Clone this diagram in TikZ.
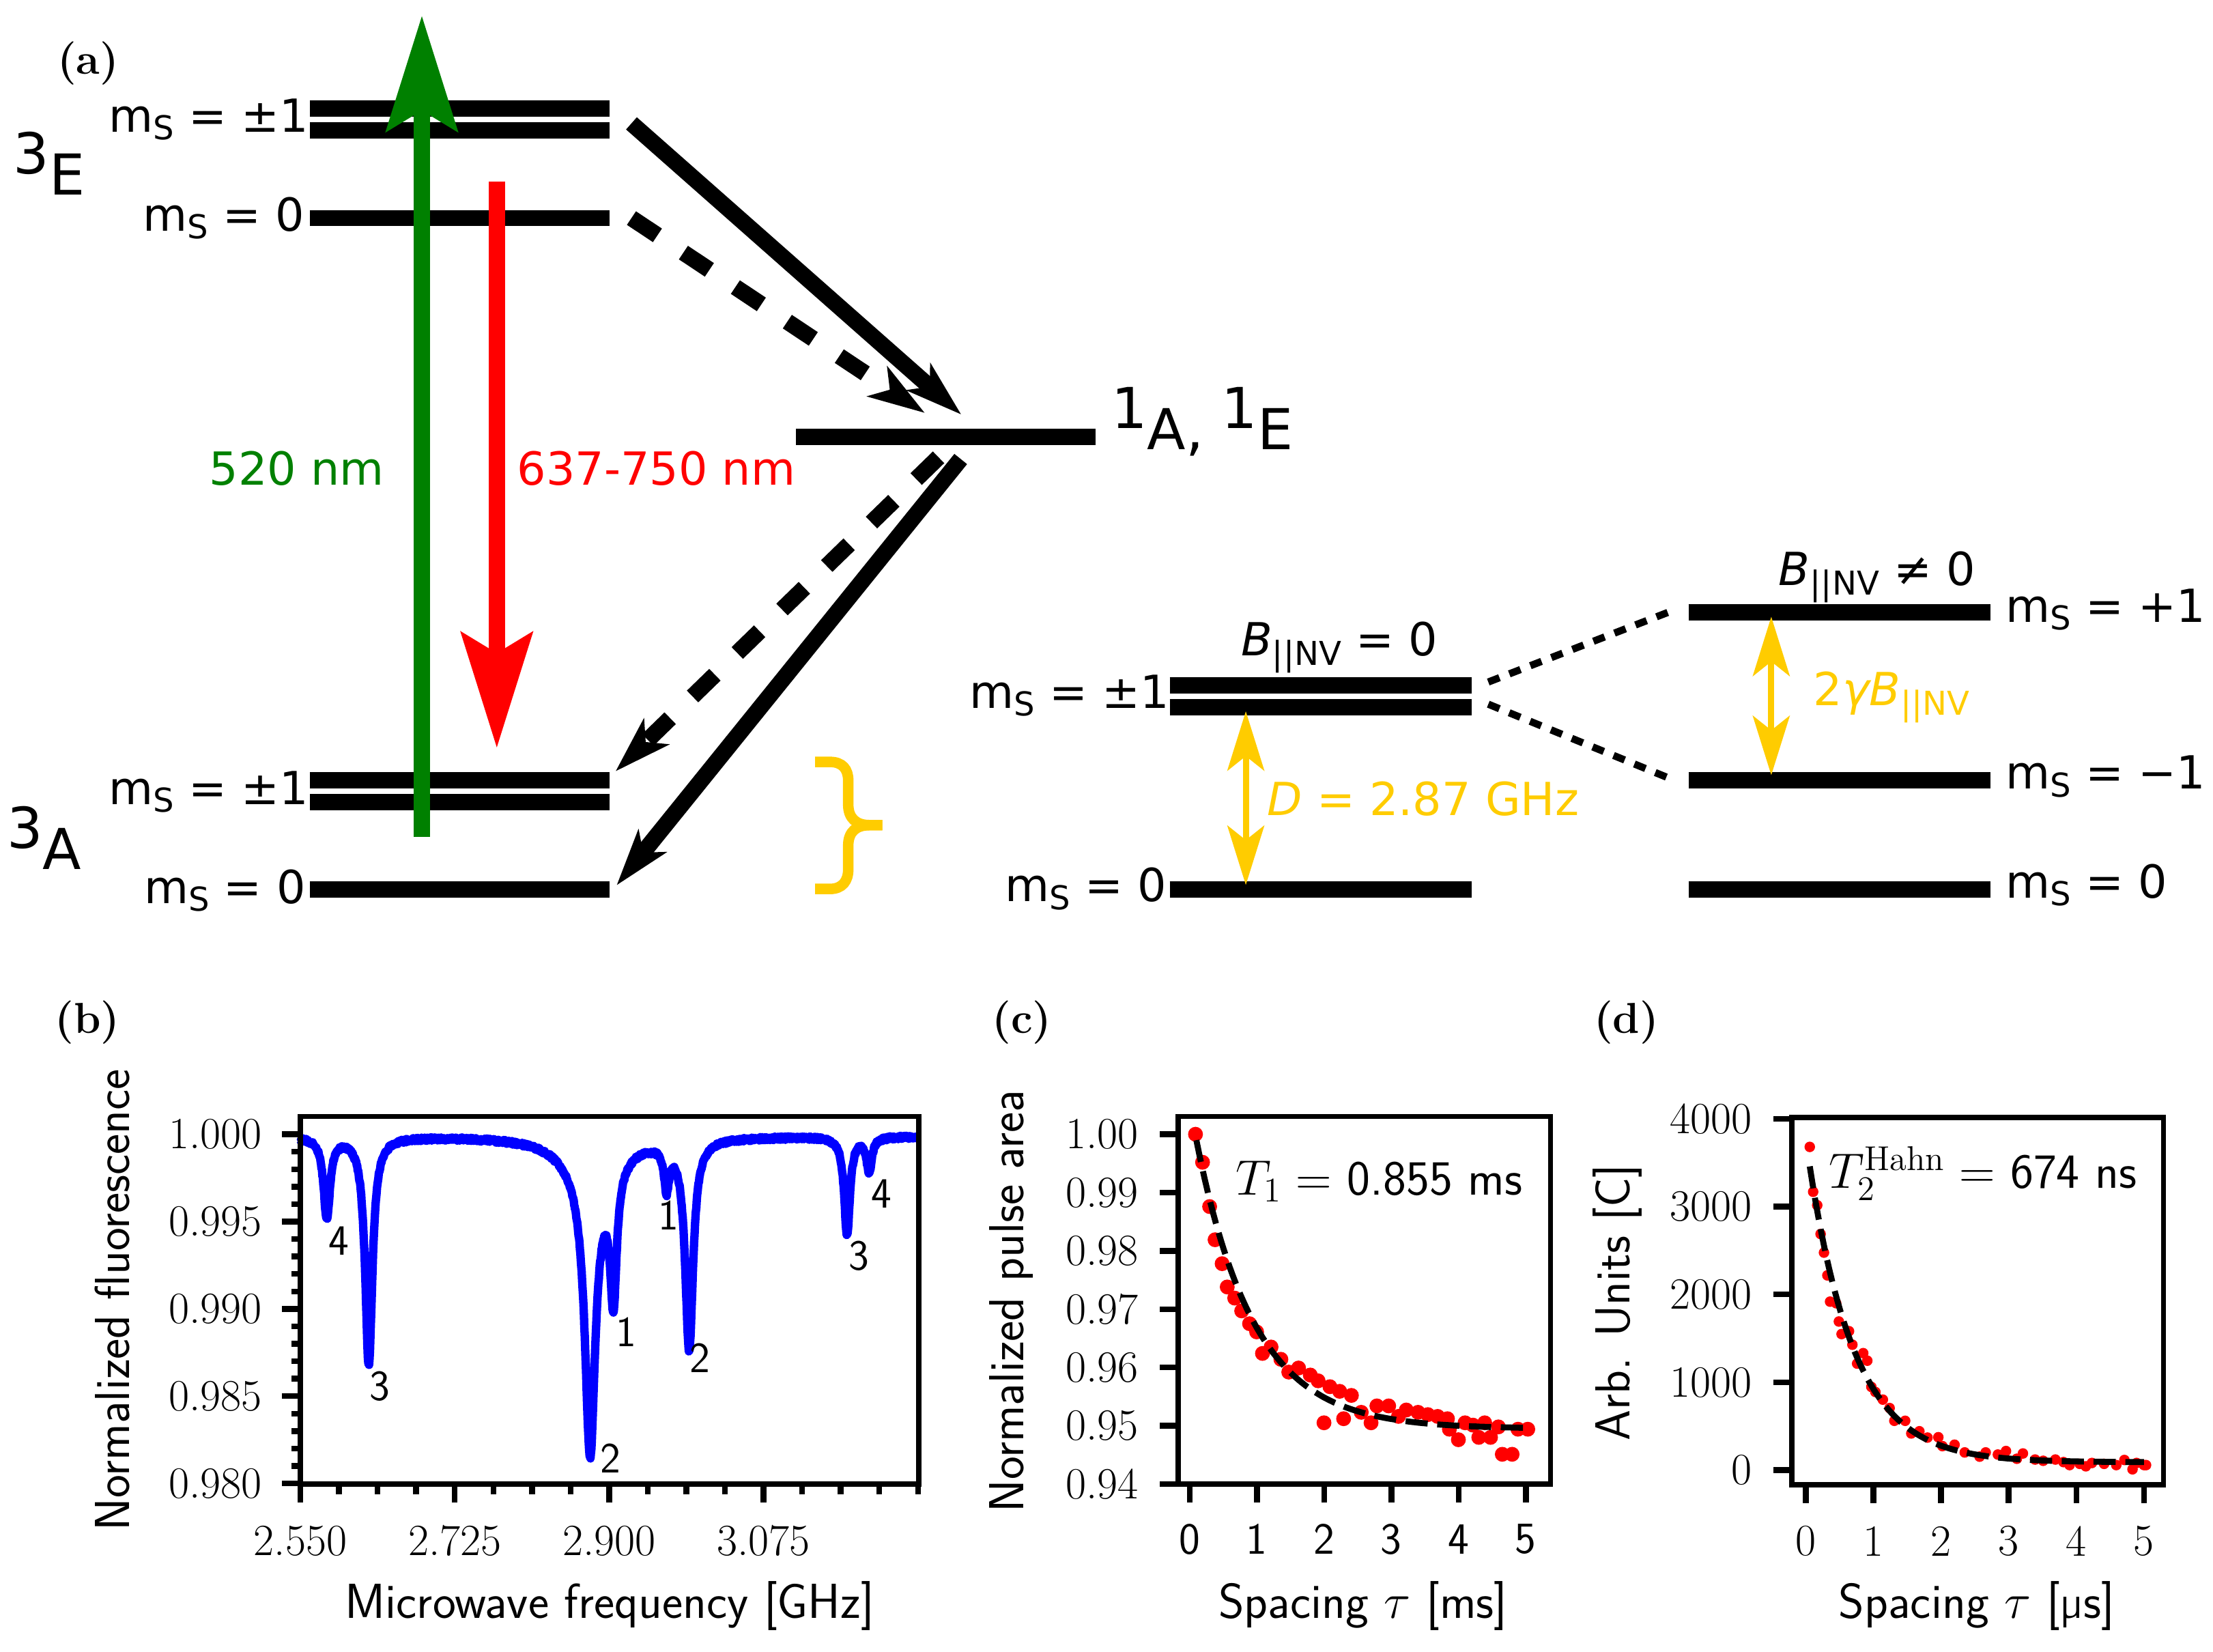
\documentclass[tikz,border=0pt]{standalone}
\usepackage{fontspec}
\usetikzlibrary{arrows.meta}
\newfontfamily\dejavu{DejaVu Sans}
\definecolor{laser}{RGB}{0,128,0}
\definecolor{gold}{RGB}{255,204,0}
\newcommand{\spinm}{m\raisebox{-3.3pt}{\fontsize{13.7}{15}\selectfont S}}
\newcommand{\bnv}{{\itshape B}\raisebox{-4pt}{\fontsize{13.7}{15}\selectfont ||NV}}
\tikzset{
  enlevel/.style={line width=6.8pt},
  iscsolid/.style={line width=6.8pt, -{Stealth[length=23.5pt, width=14.7pt, inset=6pt]}},
  iscdash/.style={iscsolid, dash pattern=on 13pt off 13pt},
  laserarrow/.style={line width=6.8pt, -{Stealth[length=48pt, width=29.4pt, inset=8.5pt]}},
  zeeman/.style={line width=3pt, dash pattern=on 5pt off 4.4pt},
  gaparrow/.style={gold, line width=2.6pt, {Stealth[length=24.7pt, width=15.3pt, inset=6pt]}-{Stealth[length=24.7pt, width=15.3pt, inset=6pt]}},
  lvllab/.style={font=\dejavu\fontsize{19}{23}\selectfont, inner sep=0pt},
  termlab/.style={font=\dejavu\fontsize{23.5}{28}\selectfont, inner sep=0pt},
  panellab/.style={font=\bfseries\fontsize{18}{21}\selectfont, inner sep=0pt},
  axbox/.style={line width=2.1pt},
  axtick/.style={line width=2.4pt},
  ticklab/.style={font=\fontsize{18.6}{22}\selectfont, inner sep=0pt},
  axlab/.style={font=\sffamily\fontsize{20.5}{24}\selectfont, inner sep=0pt},
  peaklab/.style={font=\sffamily\fontsize{18}{22}\selectfont, inner sep=0pt},
  anno/.style={font=\sffamily\fontsize{20.5}{24}\selectfont, inner sep=0pt},
  datapt/.style={fill=red},
  fitcurve/.style={line width=2.5pt, dash pattern=on 9.25pt off 4pt},
}
\begin{document}
\begin{tikzpicture}[x=0.020676cm, y=-0.020676cm,
    declare function={lor(\vx,\vc,\vw,\va)=\va/(1+(min(abs(\vx-\vc)/\vw,100))^2);
      odmr(\vx)=19.9-lor(\vx,3.0,0.45,4.6)-lor(\vx,7.76,0.5,13.1)-lor(\vx,32.85,0.7,15.7)
        -lor(\vx,33.0,3,2.5)-lor(\vx,35.49,0.45,7.6)-lor(\vx,41.52,0.35,2.4)
        -lor(\vx,44.08,0.55,12.0)-lor(\vx,61.98,0.4,5.6)-lor(\vx,64.48,0.35,2.0);}]
	\useasboundingbox (0,0) rectangle (1568,1170);
	% (a) Termschema
	\node[panellab] (pa) at (62.4,44.7) {(a)};
	% angeregtes Triplett
	\draw[enlevel] (219.6,76.9) -- (431.8,76.9);
	\draw[enlevel] (219.6,92.4) -- (431.8,92.4);
	\draw[enlevel] (219.6,154.5) -- (431.8,154.5);
	\node[lvllab, anchor=base east] (epm) at (219,93.5) {\spinm\ = ±1};
	\node[lvllab, anchor=base east] (ezero) at (216,163.6) {\spinm\ = 0};
	\node[termlab, anchor=base west] (tE) at (9.2,138) {\raisebox{8.7pt}{3}E};
	% Grundzustand
	\draw[enlevel] (219.6,553) -- (431.8,553);
	\draw[enlevel] (219.6,568.3) -- (431.8,568.3);
	\draw[enlevel] (219.6,630) -- (431.8,630);
	\node[lvllab, anchor=base east] (gpm) at (219,569.9) {\spinm\ = ±1};
	\node[lvllab, anchor=base east] (gzero) at (216.8,640) {\spinm\ = 0};
	\node[termlab, anchor=base west] (tA) at (4.5,615.8) {\raisebox{8.7pt}{3}A};
	% Singulett
	\draw[enlevel] (564,309.5) -- (776.3,309.5);
	\node[termlab, anchor=base west] (tS) at (787.2,318.4) {\raisebox{8.7pt}{1}A, \raisebox{8.7pt}{1}E};
	% Laser und Fluoreszenz
	\coordinate (pumpfoot) at (298.9,593);
	\coordinate (pumptip) at (298.9,11);
	\coordinate (flstart) at (352,128.5);
	\coordinate (fltip) at (352,530);
	\draw[laserarrow, laser] (pumpfoot) -- (pumptip);
	\draw[laserarrow, red] (flstart) -- (fltip);
	\node[lvllab, text=laser, anchor=base] (pumplab) at (210.4,343.4) {520 nm};
	\node[lvllab, text=red, anchor=base] (fllab) at (465,343.4) {637-750 nm};
	% strahlungslose Uebergaenge
	\coordinate (iscpm) at (447.4,87.4);
	\coordinate (isczero) at (447.4,154.5);
	\coordinate (sinin) at (681.1,293.7);
	\coordinate (sindash) at (655.3,292.6);
	\coordinate (sinout) at (680.7,325.2);
	\coordinate (sinoutd) at (665,324);
	\coordinate (grpm) at (436.1,546.5);
	\coordinate (grzero) at (436.9,627.2);
	\draw[iscsolid] (iscpm) -- (sinin);
	\draw[iscdash] (isczero) -- (sindash);
	\draw[iscdash] (sinoutd) -- (grpm);
	\draw[iscsolid] (sinout) -- (grzero);
	% Klammer
	\draw[gold, line width=4.4pt] (625.2,584.6) -- (616,584.6) .. controls (607,584.6) and (601,580) .. (601,570) -- (601,553) .. controls (601,545) and (597,539.8) .. (588,539.8) -- (577.5,539.8);
	\draw[gold, line width=4.4pt] (625.2,584.6) -- (616,584.6) .. controls (607,584.6) and (601,589) .. (601,599) -- (601,616) .. controls (601,624) and (597,629.8) .. (588,629.8) -- (577.5,629.8);
	% Zeeman ohne Feld
	\draw[enlevel] (828.8,485.5) -- (1042.8,485.5);
	\draw[enlevel] (828.8,500.9) -- (1042.8,500.9);
	\draw[enlevel] (828.8,630.2) -- (1042.8,630.2);
	\node[lvllab, anchor=base east] (zpm) at (828.8,501.6) {\spinm\ = ±1};
	\node[lvllab, anchor=base east] (zzero) at (827,638.6) {\spinm\ = 0};
	\node[lvllab, anchor=base] (bzero) at (949,464.6) {\bnv\ = 0};
	% Zeeman mit Feld
	\draw[enlevel] (1196.4,433.8) -- (1410.4,433.8);
	\draw[enlevel] (1196.4,552.8) -- (1410.4,552.8);
	\draw[enlevel] (1196.4,630.2) -- (1410.4,630.2);
	\node[lvllab, anchor=base west] (fplus) at (1421,440.6) {\spinm\ = +1};
	\node[lvllab, anchor=base west] (fminus) at (1421,559) {\spinm\ = −1};
	\node[lvllab, anchor=base west] (fzero) at (1421,636) {\spinm\ = 0};
	\node[lvllab, anchor=base] (bfield) at (1330,414.7) {\bnv\ ≠ 0};
	% Aufspaltung
	\coordinate (spa) at (1054.5,483.2);
	\coordinate (spb) at (1183.5,433.2);
	\coordinate (spc) at (1054.5,498.9);
	\coordinate (spd) at (1183.5,551.7);
	\draw[zeeman] (spa) -- (spb);
	\draw[zeeman] (spc) -- (spd);
	\coordinate (dtop) at (882.7,503.9);
	\coordinate (dbot) at (882.7,627);
	\coordinate (gtop) at (1255,436.9);
	\coordinate (gbot) at (1255,549.2);
	\draw[gaparrow] (dtop) -- (dbot);
	\draw[gaparrow] (gtop) -- (gbot);
	\node[lvllab, text=gold, anchor=base west] (dlab) at (897.5,577.6) {{\itshape D} = 2.87 GHz};
	\node[lvllab, text=gold, anchor=base west] (glab) at (1284.5,499.8) {2{\itshape γ}\bnv};

	% (b) ODMR Spektrum
	\node[panellab] (pb) at (62,724.5) {(b)};
	\foreach \k in {0,...,20}
		\draw[axtick] (212.8,{803.6+12.37*\k}) -- ++(-6.5,0);
	\foreach \k/\lab in {0/1.000,1/0.995,2/0.990,3/0.985,4/0.980} {
		\draw[axtick] (212.8,{803.6+61.85*\k}) -- ++(-12.9,0);
		\node[ticklab, anchor=east] (by\k) at (186,{803.6+61.85*\k}) {\lab};
	}
	\foreach \k in {0,...,16}
		\draw[axtick] ({212.8+27.35*\k},1051.5) -- ++(0,7);
	\foreach \k/\lab in {0/2.550,1/2.725,2/2.900,3/3.075} {
		\draw[axtick] ({212.8+109.4*\k},1051.5) -- ++(0,13);
		\node[ticklab] (bx\k) at ({212.8+109.4*\k},1091.6) {\lab};
	}
	\pgfmathsetseed{17}
	\draw[blue, line width=3.5pt, line join=round] plot[domain=0:70, samples=1401] ({212.8+6.25*\x},{1051-12.37*(odmr(\x)+0.1*rand)});
	\draw[axbox] (212.8,791) rectangle (651,1051.5);
	\node[peaklab] (pk4l) at (240,879) {4};
	\node[peaklab] (pk3l) at (269,982) {3};
	\node[peaklab] (pk2l) at (432.5,1033) {2};
	\node[peaklab] (pk1l) at (443.5,943.6) {1};
	\node[peaklab] (pk1r) at (473.5,861) {1};
	\node[peaklab] (pk2r) at (496,962) {2};
	\node[peaklab] (pk3r) at (608.5,890) {3};
	\node[peaklab] (pk4r) at (624.6,845.8) {4};
	\node[axlab] (bxl) at (432,1138) {Microwave frequency [GHz]};
	\node[axlab, rotate=90] (byl) at (79.4,921) {Normalized fluorescence};

	% (c) T1 Messung
	\node[panellab] (pc) at (724,724.5) {(c)};
	\foreach \k/\lab in {0/1.00,1/0.99,2/0.98,3/0.97,4/0.96,5/0.95,6/0.94} {
		\draw[axtick] (834.8,{803.6+41.3*\k}) -- ++(-13,0);
		\node[ticklab, anchor=east] (cy\k) at (807,{803.6+41.3*\k}) {\lab};
	}
	\foreach \k in {0,...,5} {
		\draw[axtick] ({842.9+47.64*\k},1051.5) -- ++(0,13);
		\node[ticklab, font=\sffamily\fontsize{18.6}{22}\selectfont] (cx\k) at ({842.9+47.64*\k},1090.4) {\k};
	}
	\foreach \t/\v in {0.087/1.000,0.192/0.9952,0.297/0.9876,0.378/0.9819,0.483/0.9778,0.559/0.9738,
		0.670/0.9719,0.774/0.9697,0.891/0.9675,0.996/0.9661,1.083/0.9624,1.211/0.9635,1.357/0.9614,
		1.474/0.9592,1.620/0.9599,1.794/0.9587,1.911/0.9577,1.998/0.9505,2.086/0.9567,2.231/0.9559,
		2.290/0.9512,2.406/0.9552,2.552/0.9523,2.698/0.9505,2.785/0.9534,2.960/0.9534,3.106/0.9516,
		3.222/0.9527,3.397/0.9523,3.543/0.9519,3.688/0.9516,3.834/0.9512,3.863/0.9494,3.997/0.9476,
		4.096/0.9505,4.213/0.9501,4.300/0.9480,4.388/0.9505,4.475/0.9480,4.592/0.9498,4.650/0.9451,
		4.796/0.9451,4.883/0.9494,5.029/0.9494}
		\fill[datapt] ({842.9+47.64*\t},{803.6+(1-\v)*4130}) circle[radius=3.1pt];
	\draw[fitcurve] plot[domain=0.1:5, samples=120] ({842.9+47.64*\x},{803.6+(0.0505-0.0495*exp(-(\x-0.1)/0.855))*4130});
	\draw[axbox] (834.8,791) rectangle (1098.6,1051.5);
	\node[anno, anchor=base] (tone) at (977,846.4) {$T_1 =$ 0.855 ms};
	\node[axlab] (cxl) at (965.8,1138) {Spacing $\tau$ [ms]};
	\node[axlab, rotate=90] (cyl) at (716.7,922) {Normalized pulse area};

	% (d) Hahn Echo
	\node[panellab] (pd) at (1152.3,724.5) {(d)};
	\foreach \k in {0,...,4} {
		\draw[axtick] (1269.6,{1041.6-62.25*\k}) -- ++(-13,0);
		\node[ticklab, anchor=east] (dy\k) at (1241.7,{1041.6-62.25*\k}) {\pgfmathparse{int(1000*\k)}\pgfmathresult};
	}
	\foreach \k in {0,...,5} {
		\draw[axtick] ({1279.4+47.94*\k},1052) -- ++(0,13);
		\node[ticklab] (dx\k) at ({1279.4+47.94*\k},1091.8) {\k};
	}
	\foreach \t/\v in {0.06/3679,0.11/3168,0.17/3015,0.22/2688,0.27/2476,0.32/2217,0.36/1918,0.45/1900,
		0.49/1692,0.53/1549,0.64/1582,0.69/1428,0.76/1213,0.85/1332,0.91/1246,0.97/948,1.03/890,
		1.14/803,1.24/707,1.31/562,1.47/562,1.56/418,1.68/443,1.80/371,1.96/375,2.02/274,2.20/290,
		2.35/202,2.57/154,2.66/202,2.84/178,2.96/218,3.12/130,3.21/190,3.39/121,3.51/107,3.69/121,
		3.81/92,3.90/58,4.05/72,4.14/44,4.23/82,4.41/72,4.59/58,4.71/116,4.83/10,4.89/82,5.00/58,5.03/58}
		\fill[datapt] ({1279.4+47.94*\t},{1041.6-0.06225*\v}) circle[radius=2.2pt];
	\draw[fitcurve] plot[domain=0.06:5, samples=120] ({1279.4+47.94*\x},{1041.6-0.06225*(90+3680*exp(-\x/0.674))});
	\draw[axbox] (1269.6,791.7) rectangle (1533,1052);
	\node[anno, anchor=base] (ttwo) at (1405,842) {$T_2^{\mathrm{Hahn}} =$ 674 ns};
	\node[axlab] (dxl) at (1400.7,1138) {Spacing $\tau$ [µs]};
	\node[axlab, rotate=90] (dyl) at (1145.8,922.8) {Arb. Units [C]};
\end{tikzpicture}
\end{document}
